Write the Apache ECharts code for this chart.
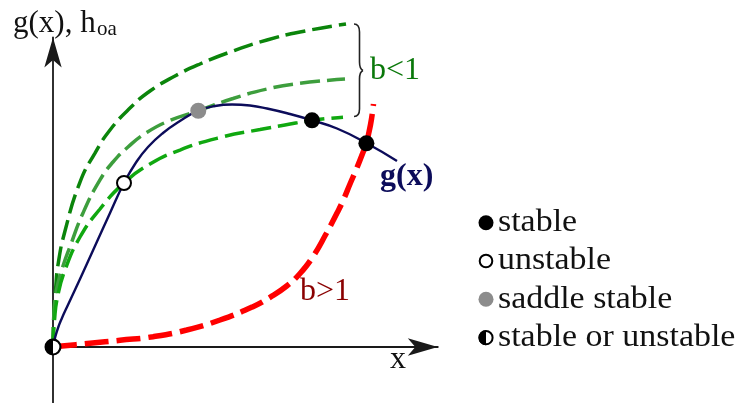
<!DOCTYPE html>
<html><head><meta charset="utf-8">
<script src="https://cdn.jsdelivr.net/npm/echarts@6/dist/echarts.min.js"></script>
<style>html,body{margin:0;padding:0;background:#fff}#c{width:741px;height:403px}</style>
</head><body><div id="c"></div>
<script>
// g(x) curve
const gCurve = [[0,0],[0.054,0.243],[0.135,0.514],[0.243,0.784],[0.378,1.081],[0.730,1.838],[1.135,2.730],[1.541,3.622],[1.919,4.432],[2.243,4.986],[2.568,5.405],[2.973,5.784],[3.432,6.108],[3.927,6.386],[4.378,6.514],[4.838,6.554],[5.324,6.527],[5.784,6.446],[6.405,6.297],[7.0,6.127],[7.676,5.905],[8.478,5.505],[9.297,5.027]];
// h_oa curves, b<1 (top, middle, lower)
const hTop = [[0,0],[0.016,0.730],[0.068,1.541],[0.143,2.270],[0.324,3.135],[0.730,4.459],[1.135,5.243],[1.541,5.865],[2.081,6.459],[2.622,6.919],[3.297,7.324],[3.973,7.649],[4.865,8.0],[5.784,8.297],[6.676,8.514],[7.919,8.730]];
const hMid = [[0,0],[0.019,0.730],[0.054,1.270],[0.135,1.730],[0.270,2.189],[0.459,2.711],[0.811,3.622],[1.270,4.514],[1.622,5.0],[2.027,5.405],[2.532,5.797],[3.162,6.122],[3.927,6.386],[4.865,6.716],[5.784,6.973],[6.676,7.127],[7.892,7.243]];
const hLow = [[0,0],[0.041,0.730],[0.122,1.351],[0.324,2.081],[0.730,2.973],[1.270,3.730],[1.919,4.432],[2.622,4.946],[3.432,5.324],[4.514,5.662],[5.595,5.878],[6.270,6.0],[7.0,6.127],[7.838,6.211]];
// h_oa curve, b>1
const hRed = [[0,0],[0.243,0.027],[1.0,0.1],[1.811,0.181],[2.703,0.278],[3.614,0.459],[4.514,0.730],[5.405,1.089],[5.865,1.343],[6.316,1.649],[6.676,1.986],[7.027,2.446],[7.378,3.054],[7.676,3.622],[7.846,3.973],[8.027,4.405],[8.208,4.830],[8.351,5.189],[8.465,5.505],[8.541,5.811],[8.608,6.162],[8.662,6.568]];
// equilibrium points
const stablePts = [[7.0,6.127],[8.47,5.505]];
const unstablePts = [[1.919,4.432]];
const saddlePts = [[3.927,6.386]];
const halfPts = [[0,0]];
const legendLabels = ['stable','unstable','saddle stable','stable or unstable'];

const SERIF = '"Liberation Serif", "Times New Roman", serif';
const AX = '#1a1a1a';
const HALF = 'path://M0,10A10,10,0,1,1,20,10A10,10,0,1,1,0,10ZM2.5,10A7.5,7.5,0,1,0,17.5,10A7.5,7.5,0,1,0,2.5,10ZM10,2.5A7.5,7.5,0,0,0,10,17.5Z';

function curve(data, color, width, dash, z) {
  return {type:'line', data:data, showSymbol:false, symbol:'none', smooth:0.5, clip:false, silent:true, z:z,
    lineStyle:{color:color, width:width, type:dash, cap:'butt'}};
}
function axis(min, max) {
  return {type:'value', min:min, max:max,
    axisLine:{onZero:true, symbol:['none','arrow'], symbolSize:[13,30], lineStyle:{color:AX, width:1.8}},
    axisTick:{show:false}, axisLabel:{show:false}, splitLine:{show:false}};
}
function txt(x, y, text, size, color, weight, sx) {
  return {type:'text', x:x, y:y, z:100, scaleX:sx || 1, style:{text:text, fill:color, align:'left', verticalAlign:'middle',
    font:(weight||'normal') + ' ' + size + 'px ' + SERIF}};
}
function bz(x1,y1,c1x,c1y,c2x,c2y,x2,y2) {
  return {type:'bezierCurve', z:100, shape:{x1:x1,y1:y1,cpx1:c1x,cpy1:c1y,cpx2:c2x,cpy2:c2y,x2:x2,y2:y2},
    style:{fill:null, stroke:'#222', lineWidth:1.6}};
}
function ln(x1,y1,x2,y2) {
  return {type:'line', z:100, shape:{x1:x1,y1:y1,x2:x2,y2:y2}, style:{stroke:'#222', lineWidth:1.6}};
}
function pts(name, data, symbol, size, style, z) {
  return {type:'scatter', name:name, data:data, symbol:symbol, symbolSize:size, silent:true, z:z,
    itemStyle:Object.assign({opacity:1}, style)};
}
function dot(cy, r, fill, stroke) {
  return {type:'circle', z:100, shape:{cx:486, cy:cy, r:r},
    style:{fill:fill, stroke:stroke || null, lineWidth:stroke ? 2 : 0}};
}

// hand-drawn key (legend)
const keyY = [222.7, 261, 299.3, 337.7];
const keyItems = [
  dot(keyY[0], 7.5, '#000'),
  dot(keyY[1], 6.3, '#fff', '#000'),
  dot(keyY[2], 7.5, '#8c8c8c'),
  dot(keyY[3], 6.6, '#fff', '#000'),
  {type:'sector', z:101, shape:{cx:486, cy:keyY[3], r:7.5, r0:0, startAngle:Math.PI/2, endAngle:Math.PI*1.5},
    style:{fill:'#000'}}
];
legendLabels.forEach(function (t, i) { keyItems.push(txt(498, keyY[i], t, 32, '#111', 'normal', 1.06)); });

const chart = echarts.init(document.getElementById('c'), null, {renderer:'canvas'});
chart.setOption({
  animation:false,
  backgroundColor:'#fff',
  grid:{left:53, right:303.2, top:37.5, bottom:0.5},
  xAxis: axis(0, 10.4),
  yAxis: axis(-1.5, 8.365),
  series:[
    curve(hTop, '#0b850b', 3.5, [20,7], 3),
    curve(hMid, '#3d9e3d', 3.5, [20,7], 3),
    curve(hLow, '#10a810', 3.5, [20,7], 3),
    curve(hRed, '#ff0000', 5.5, [24,8], 4),
    curve(gCurve, '#0c0c5a', 2.4, 'solid', 5),
    pts('', halfPts, 'circle', 15, {color:'#fff'}, 9),
    pts(legendLabels[3], halfPts, HALF, 17, {color:'#000'}, 10),
    pts(legendLabels[0], stablePts, 'circle', 16, {color:'#000'}, 10),
    pts(legendLabels[1], unstablePts, 'circle', 14, {color:'#fff', borderColor:'#000', borderWidth:2}, 10),
    pts(legendLabels[2], saddlePts, 'circle', 16, {color:'#8c8c8c'}, 10)
  ],
  graphic:[
    txt(13, 23.5, 'g(x), h', 31, '#111'),
    txt(97, 29, 'oa', 21, '#111'),
    txt(370, 70.2, 'b<1', 32, '#0a780a'),
    txt(300, 292, 'b>1', 32, '#8a0000'),
    txt(380, 176.7, 'g(x)', 32, '#0c0c5a', 'bold'),
    txt(390, 359.5, 'x', 32, '#111'),
    bz(354,24, 358,24, 359.5,27, 359.5,32),
    ln(359.5,32, 359.5,62),
    bz(359.5,62, 359.5,67, 360.5,69.5, 363,70.5),
    bz(363,70.5, 360.5,71.5, 359.5,74, 359.5,79),
    ln(359.5,79, 359.5,109),
    bz(359.5,109, 359.5,114, 358,116.5, 354,116.5)
  ].concat(keyItems)
});
</script></body></html>
